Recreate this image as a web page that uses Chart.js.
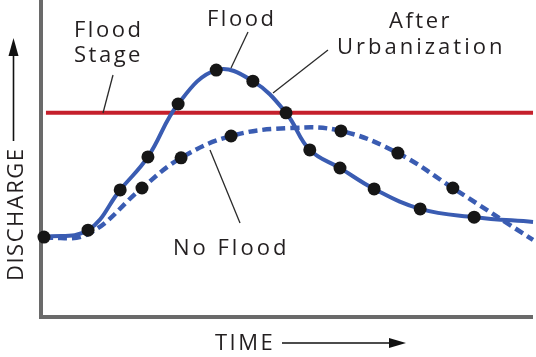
<!DOCTYPE html>
<html>
<head>
<meta charset="utf-8">
<script src="https://cdn.jsdelivr.net/npm/chart.js@4/dist/chart.umd.min.js"></script>
<style>
  html, body { margin: 0; padding: 0; background: #ffffff; }
  #wrap { width: 536px; height: 357px; }
</style>
</head>
<body>
<div id="wrap"><canvas id="c" width="536" height="357"></canvas></div>
<script>
// ---- Data (time and discharge in relative units 0-100) ----
const urbanTime       = [0.6, 9.5, 16.0, 21.6, 27.7, 35.4, 42.8, 49.5, 54.3, 60.4, 67.3, 76.6, 87.5, 99.4];
const urbanDischarge  = [25.2, 27.4, 40.1, 50.5, 67.2, 77.9, 74.4, 64.4, 52.7, 47.0, 40.4, 34.1, 31.5, 30.0];
const urbanMeasured   = [true, true, true, true, true, true, true, true, true, true, true, true, true, false];

const noFloodTime      = [0.6, 9.5, 20.4, 28.3, 38.4, 50.3, 60.6, 72.1, 83.2, 99.4];
const noFloodDischarge = [24.9, 26.2, 40.7, 50.2, 57.1, 59.6, 58.7, 51.7, 40.7, 24.3];
const noFloodMeasured  = [false, false, true, true, true, false, true, true, true, false];

const floodStageTime      = [1.0, 99.4];
const floodStageDischarge = [64.4, 64.4];

const labels = {
  floodStage: ["Flood", "Stage"],
  flood: "Flood",
  after: ["After", "Urbanization"],
  noFlood: "No Flood",
  xTitle: "TIME",
  yTitle: "DISCHARGE"
};

// ---- build points ----
const pts = (xs, ys) => xs.map((x, i) => ({ x: x, y: ys[i] }));
const pick = (xs, ys, flags) => xs.map((x, i) => ({ x: x, y: ys[i] })).filter((p, i) => flags[i]);

const BLUE = '#3a5cb2';
const RED = '#c5202c';
const AXIS = '#6a6a6a';
const TEXT = '#231f20';

const decorPlugin = {
  id: 'decor',
  beforeDatasetsDraw(chart) {
    const ctx = chart.ctx;
    const a = chart.chartArea;
    ctx.save();
    ctx.strokeStyle = AXIS;
    ctx.lineWidth = 4;
    ctx.lineCap = 'butt';
    ctx.beginPath();
    ctx.moveTo(a.left, a.top);
    ctx.lineTo(a.left, a.bottom);
    ctx.lineTo(a.right - 3, a.bottom);
    ctx.stroke();
    ctx.restore();
  },
  afterDraw(chart) {
    const ctx = chart.ctx;
    ctx.save();
    ctx.fillStyle = TEXT;
    ctx.font = '22px "Open Sans"';
    ctx.textBaseline = 'alphabetic';
    const spacing = (px) => { try { ctx.letterSpacing = px + 'px'; } catch (e) {} };

    spacing(2.5);
    // Flood Stage
    ctx.textAlign = 'left';
    ctx.fillText(labels.floodStage[0], 74, 37);
    ctx.fillText(labels.floodStage[1], 74, 62);
    // Flood
    ctx.fillText(labels.flood, 207, 26);
    // After Urbanization
    ctx.fillText(labels.after[0], 389, 28);
    spacing(3);
    ctx.fillText(labels.after[1], 337, 54);
    // No Flood
    ctx.fillText(labels.noFlood, 173, 255);
    // TIME
    spacing(2.5);
    ctx.fillText(labels.xTitle, 215, 350);

    // DISCHARGE (rotated)
    ctx.save();
    ctx.translate(23, 281);
    ctx.rotate(-Math.PI / 2);
    ctx.textAlign = 'left';
    spacing(1.5);
    ctx.fillText(labels.yTitle, 0, 0);
    ctx.restore();
    spacing(0);

    // leader lines
    ctx.strokeStyle = '#2a2a2a';
    ctx.lineWidth = 1.3;
    const seg = (x1, y1, x2, y2) => { ctx.beginPath(); ctx.moveTo(x1, y1); ctx.lineTo(x2, y2); ctx.stroke(); };
    seg(113, 75, 103, 113);
    seg(248, 32, 231, 68);
    seg(328, 50, 273, 93);
    seg(210, 150, 240, 223);

    // arrows
    ctx.strokeStyle = '#111';
    ctx.fillStyle = '#111';
    ctx.lineWidth = 1.6;
    // y arrow
    seg(13.5, 141, 13.5, 54);
    ctx.beginPath();
    ctx.moveTo(13.5, 38); ctx.lineTo(8.5, 56); ctx.lineTo(18.5, 56); ctx.closePath(); ctx.fill();
    // x arrow
    seg(282, 343, 392, 343);
    ctx.beginPath();
    ctx.moveTo(406, 343); ctx.lineTo(389, 338); ctx.lineTo(389, 348); ctx.closePath(); ctx.fill();
    ctx.restore();
  }
};

new Chart(document.getElementById('c'), {
  type: 'line',
  data: {
    datasets: [
      {
        label: 'Flood Stage',
        data: pts(floodStageTime, floodStageDischarge),
        borderColor: RED,
        borderWidth: 4,
        pointRadius: 0,
        tension: 0,
        order: 5,
        clip: false
      },
      {
        label: 'No Flood',
        data: pts(noFloodTime, noFloodDischarge),
        borderColor: BLUE,
        borderWidth: 4.5,
        borderDash: [9, 5],
        pointRadius: 0,
        tension: 0.4,
        order: 4,
        clip: false
      },
      {
        label: 'After Urbanization',
        data: pts(urbanTime, urbanDischarge),
        borderColor: BLUE,
        borderWidth: 4,
        pointRadius: 0,
        tension: 0.4,
        order: 3,
        clip: false
      },
      {
        label: 'No Flood samples',
        data: pick(noFloodTime, noFloodDischarge, noFloodMeasured),
        showLine: false,
        pointRadius: 6.5,
        pointBackgroundColor: '#161616',
        pointBorderWidth: 0,
        order: 2,
        clip: false
      },
      {
        label: 'Urbanized samples',
        data: pick(urbanTime, urbanDischarge, urbanMeasured),
        showLine: false,
        pointRadius: 6.5,
        pointBackgroundColor: '#161616',
        pointBorderWidth: 0,
        order: 1,
        clip: false
      }
    ]
  },
  options: {
    responsive: false,
    animation: false,
    layout: { autoPadding: false, padding: { left: 41, right: 0, top: 0, bottom: 40 } },
    scales: {
      x: { type: 'linear', min: 0, max: 100, display: false },
      y: { type: 'linear', min: 0, max: 100, display: false }
    },
    plugins: {
      legend: { display: false },
      tooltip: { enabled: false }
    },
    events: []
  },
  plugins: [decorPlugin]
});
</script>
</body>
</html>
